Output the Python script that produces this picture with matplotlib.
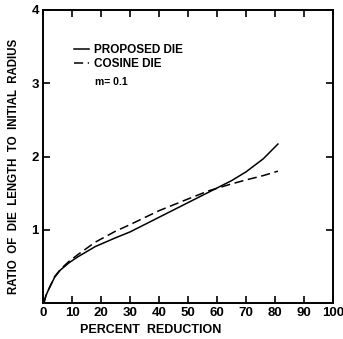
import matplotlib
matplotlib.use("Agg")
import matplotlib.pyplot as plt

plt.rcParams['font.family'] = ['Liberation Sans Narrow', 'Liberation Sans', 'DejaVu Sans']
plt.rcParams['font.weight'] = 'bold'

# percent reduction vs ratio of die length to initial radius
red_proposed = [0.3, 1, 2, 4, 6, 9, 12, 18, 25, 30, 40, 50, 55, 60, 65, 70, 76, 81]
len_proposed = [0.0, 0.10, 0.19, 0.35, 0.45, 0.55, 0.63, 0.77, 0.89, 0.97, 1.17,
                1.37, 1.47, 1.57, 1.67, 1.79, 1.97, 2.17]

red_cosine = [0.3, 1, 2, 4, 6, 9, 12, 18, 25, 30, 40, 50, 57, 64.5, 70, 76, 81]
len_cosine = [0.0, 0.10, 0.19, 0.36, 0.46, 0.57, 0.66, 0.83, 0.98, 1.07, 1.26,
              1.42, 1.53, 1.62, 1.68, 1.74, 1.80]

x_ticks = [0, 10, 20, 30, 40, 50, 60, 70, 80, 90, 100]
y_ticks = [1, 2, 3, 4]

fig = plt.figure(figsize=(3.43, 3.39), dpi=100)
ax = fig.add_axes([43 / 343, 36 / 339, 290 / 343, 293 / 339])

ax.plot(red_proposed, len_proposed, color='black', lw=1.1, label='PROPOSED DIE',
        solid_joinstyle='round')
ax.plot(red_cosine, len_cosine, color='black', lw=1.1, dashes=(6, 3), label='COSINE DIE')

ax.set_xlim(0, 100)
ax.set_ylim(0, 4)
ax.set_xticks(x_ticks)
ax.set_yticks(y_ticks)
ax.tick_params(direction='in', length=5, width=1.2, top=True, right=True,
               labelsize=9.5, pad=3)
for s in ax.spines.values():
    s.set_linewidth(1.4)

ax.set_xlabel('PERCENT  REDUCTION', fontsize=9, fontweight='bold')
ax.xaxis.set_label_coords(0.37, -0.07)
ax.set_ylabel('RATIO  OF  DIE  LENGTH  TO  INITIAL  RADIUS', fontsize=8.3,
              fontweight='bold')
ax.yaxis.set_label_coords(-0.078, 0.465)

leg = ax.legend(loc='upper left', bbox_to_anchor=(0.07, 0.92), frameon=False,
                handlelength=1.3, handletextpad=0.4, labelspacing=0.15,
                prop={'size': 8.5, 'weight': 'bold'})
ax.text(0.18, 0.745, 'm= 0.1', transform=ax.transAxes, fontsize=7.5, fontweight='bold')

fig.savefig('out.png', dpi=100)
